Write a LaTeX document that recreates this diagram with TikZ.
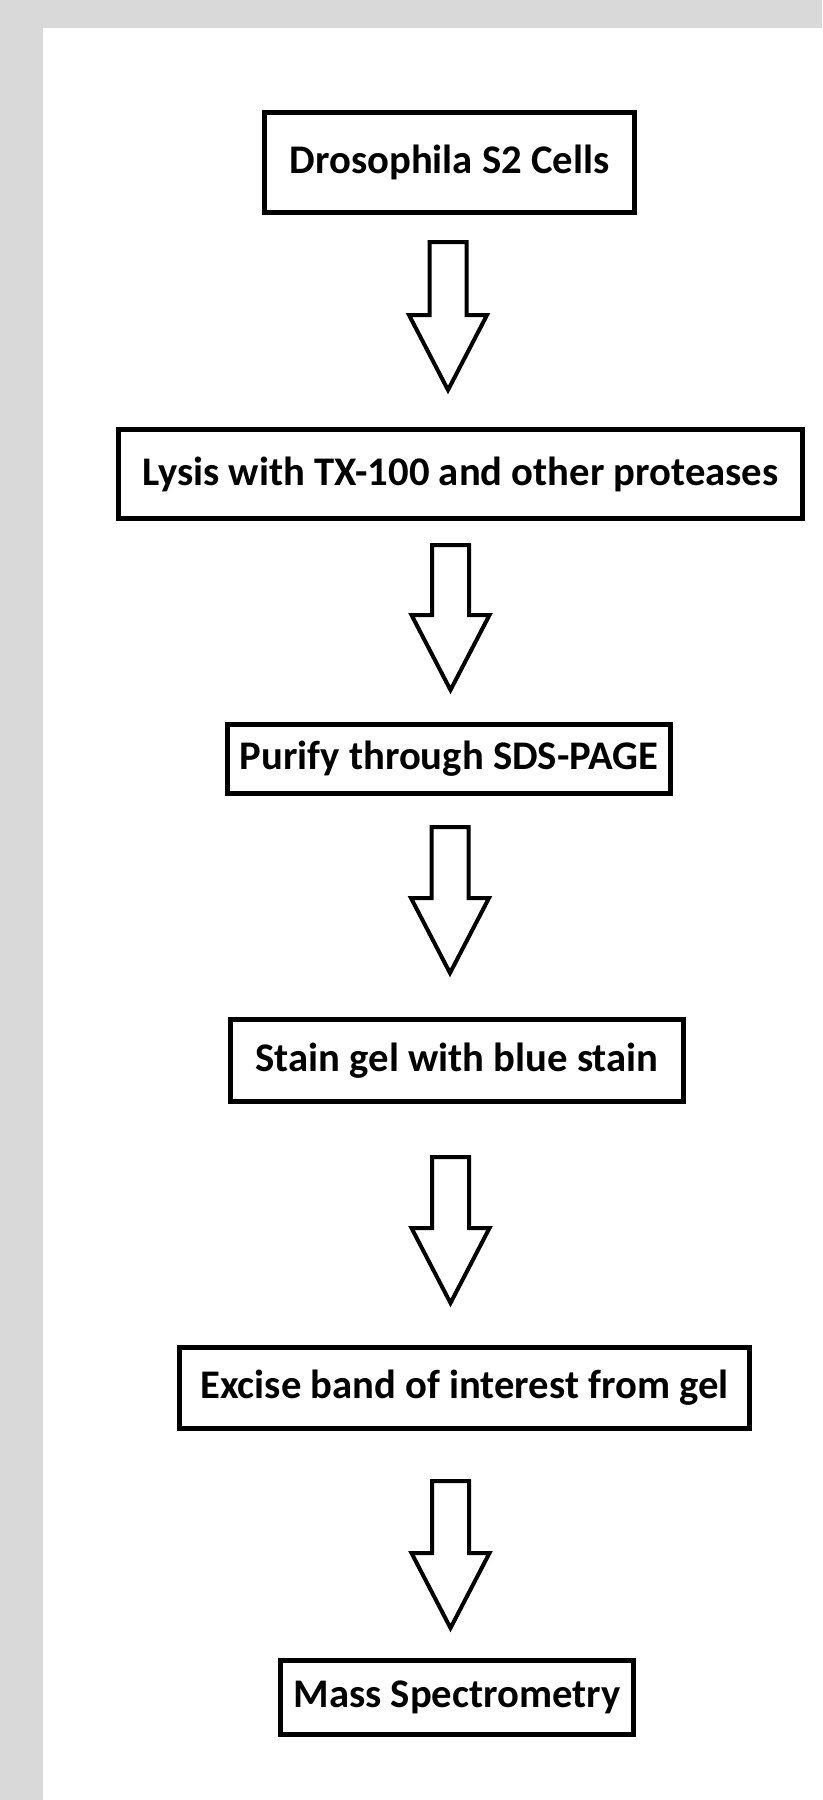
\documentclass[tikz,border=0pt]{standalone}
\usepackage{fontspec}
\setmainfont{Carlito}
\usetikzlibrary{calc}
\definecolor{bggray}{HTML}{D9D9D9}
\tikzset{
  stepbox/.style={draw=black, line width=3.75pt, fill=white, inner sep=0pt,
    font=\fontsize{30.5pt}{34pt}\selectfont\bfseries, text=black},
  arrowline/.style={draw=black, line width=3pt, fill=white, line join=miter},
}
\newcommand\blockarr[2]{%
  \draw[arrowline] ($(#1)+(-18.5,0)$) -- ($(#1)+(18.5,0)$) -- ($(#2)+(18.5,-75)$)
    -- ($(#2)+(39,-75)$) -- (#2) -- ($(#2)+(-39,-75)$) -- ($(#2)+(-18.5,-75)$) -- cycle;}
\begin{document}
\begin{tikzpicture}[x=0.75pt, y=-0.75pt]
\useasboundingbox (0,0) rectangle (822,1800);
\fill[bggray] (0,0) rectangle (822,1800);
\fill[white] (42.5,28) rectangle (822,1800);

\node[stepbox, minimum width=277.5pt, minimum height=75pt] (b1) at (449.5,162.5) {Drosophila S2 Cells};
\node[stepbox, minimum width=513pt, minimum height=66.75pt] (b2) at (460.5,474) {Lysis with TX-100 and other proteases};
\node[stepbox, minimum width=332.25pt, minimum height=51.75pt] (b3) at (449,759) {Purify through SDS-PAGE};
\node[stepbox, minimum width=339.75pt, minimum height=61.5pt] (b4) at (457,1060.5) {Stain gel with blue stain};
\node[stepbox, minimum width=427.5pt, minimum height=60.75pt] (b5) at (464.5,1388) {Excise band of interest from gel};
\node[stepbox, minimum width=264.75pt, minimum height=55.5pt] (b6) at (457,1697.5) {Mass Spectrometry};

\coordinate (t1) at (448,242);  \coordinate (p1) at (448,390);
\coordinate (t2) at (450.5,545); \coordinate (p2) at (450.5,690);
\coordinate (t3) at (450,827);  \coordinate (p3) at (450,973);
\coordinate (t4) at (450.5,1157); \coordinate (p4) at (450.5,1303);
\coordinate (t5) at (450.5,1481); \coordinate (p5) at (450.5,1628);

\blockarr{t1}{p1}
\blockarr{t2}{p2}
\blockarr{t3}{p3}
\blockarr{t4}{p4}
\blockarr{t5}{p5}
\end{tikzpicture}
\end{document}
